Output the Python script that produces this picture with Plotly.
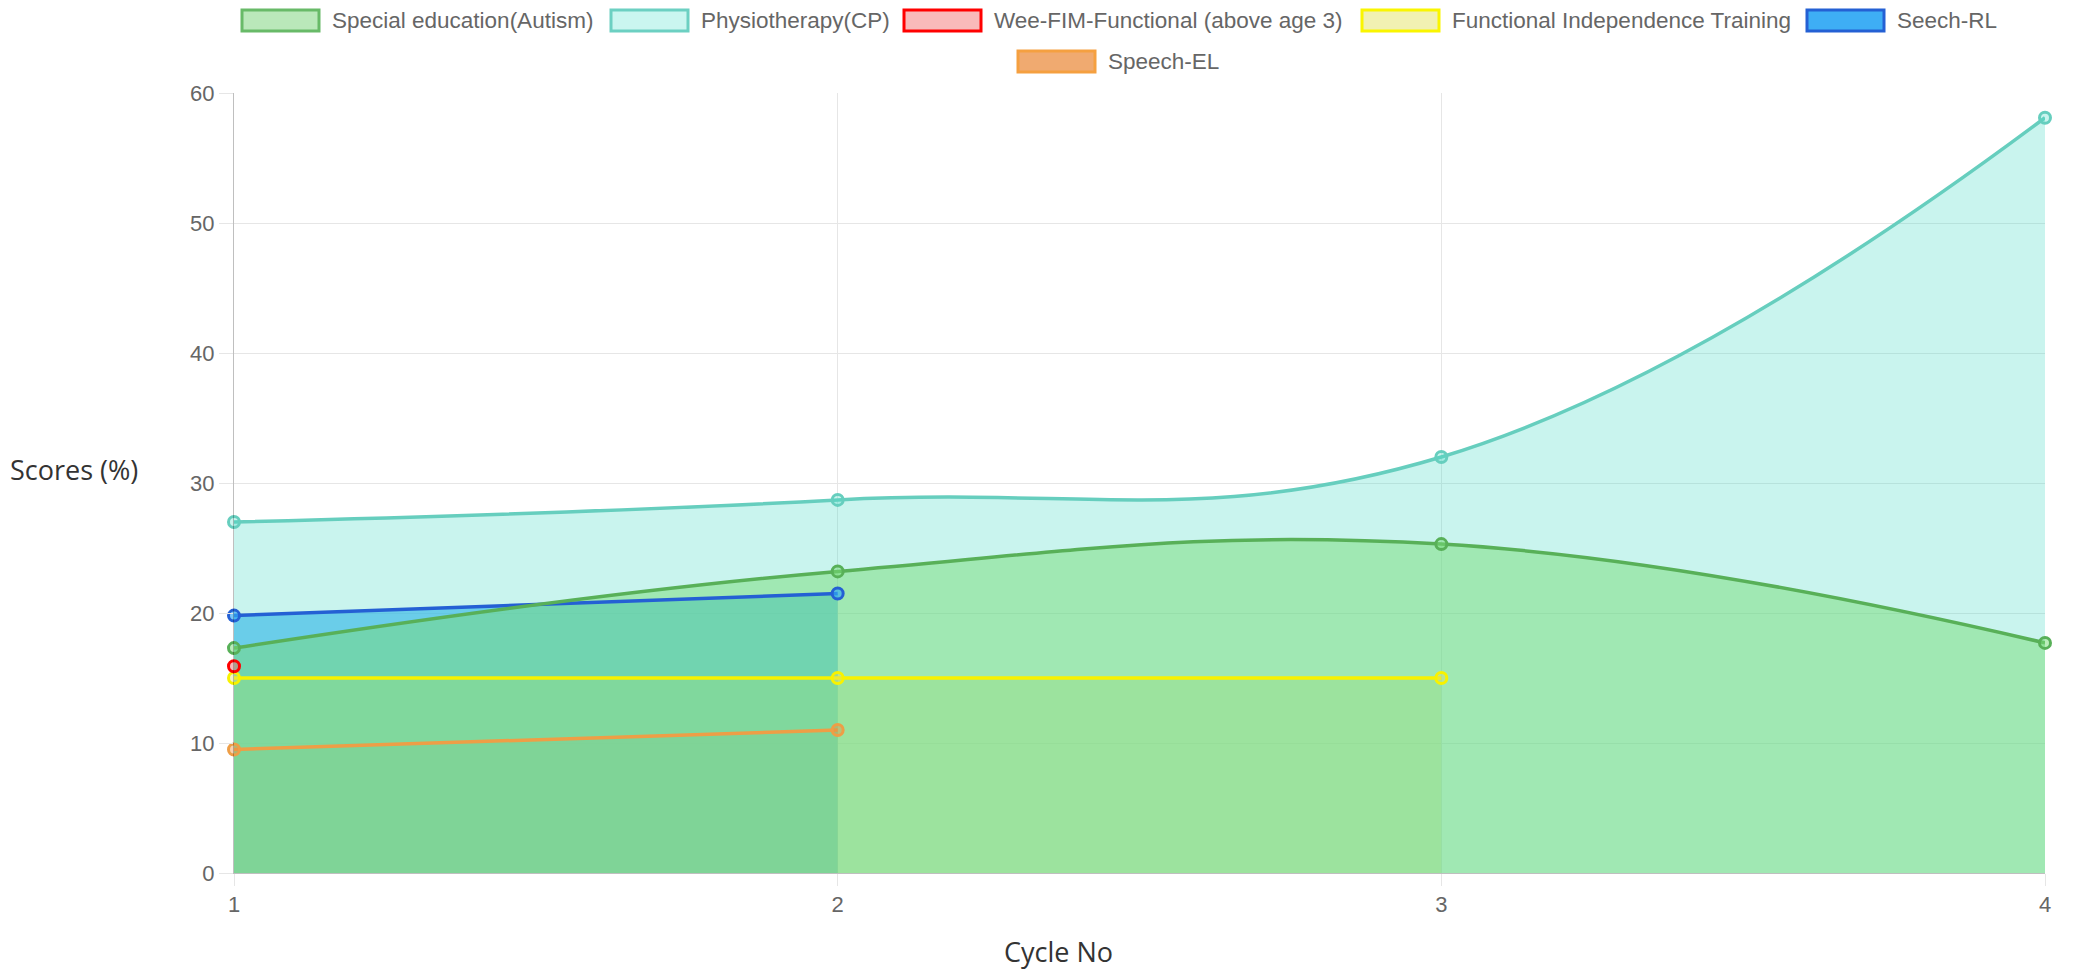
import plotly.graph_objects as go

# ---- data ----
cycles = [1, 2, 3, 4]
series_names = [
    "Special education(Autism)",
    "Physiotherapy(CP)",
    "Wee-FIM-Functional (above age 3)",
    "Functional Independence Training",
    "Seech-RL",
    "Speech-EL",
]
special_education = [17.3, 23.2, 25.3, 17.7]
physiotherapy = [27.0, 28.7, 32.0, 58.1]
wee_fim = [15.9]
functional_training = [15.0, 15.0, 15.0]
speech_rl = [19.8, 21.5]
speech_el = [9.5, 11.0]
y_ticks = [0, 10, 20, 30, 40, 50, 60]
x_ticks = [1, 2, 3, 4]

values = [special_education, physiotherapy, wee_fim, functional_training, speech_rl, speech_el]

# ---- styles ----
line_colors = [
    "rgb(88,176,88)",
    "rgb(102,206,190)",
    "rgb(255,0,0)",
    "rgb(248,242,0)",
    "rgb(36,96,212)",
    "rgb(238,158,70)",
]
fill_colors = [
    "rgba(120,219,120,0.5)",
    "rgba(75,220,200,0.3)",
    "rgba(240,100,100,0.45)",
    "rgba(225,225,110,0.4)",
    "rgba(50,170,245,0.66)",
    "rgba(235,140,60,0.4)",
]
legend_fill = [
    "rgb(186,232,186)",
    "rgb(202,246,240)",
    "rgb(249,186,186)",
    "rgb(241,241,178)",
    "rgb(62,174,245)",
    "rgb(240,170,112)",
]
legend_border = [
    "rgb(104,186,104)",
    "rgb(108,208,194)",
    "rgb(255,0,0)",
    "rgb(250,245,0)",
    "rgb(36,96,212)",
    "rgb(245,160,64)",
]

# page body has an 8px margin; positions below are measured in window pixels
OFF = 8
W, H = 2057, 964
PLOT_LEFT, PLOT_RIGHT, PLOT_TOP, PLOT_BOTTOM = 234, 2045, 92.5, 873  # window px
L = PLOT_LEFT - OFF
R = W - (PLOT_RIGHT - OFF)
T = PLOT_TOP - OFF
B = H - (PLOT_BOTTOM - OFF)
PW, PH = W - L - R, H - T - B


def px_x(px):
    return (px - OFF - L) / PW


def px_y(py):
    return 1 - (py - OFF - T) / PH


SMOOTH = 1.2

fig = go.Figure()

# Chart.js-like draw order: last dataset at bottom; all fills first, then lines
order = list(range(len(series_names)))[::-1]
for i in order:
    ys = values[i]
    xs = cycles[: len(ys)]
    if len(ys) > 1:
        fig.add_trace(go.Scatter(
            x=xs, y=ys, mode="none", fill="tozeroy", fillcolor=fill_colors[i],
            line=dict(shape="spline", smoothing=SMOOTH),
            showlegend=False, hoverinfo="skip",
        ))
for i in order:
    ys = values[i]
    xs = cycles[: len(ys)]
    fig.add_trace(go.Scatter(
        x=xs, y=ys, mode="lines+markers", name=series_names[i],
        line=dict(color=line_colors[i], width=3.5, shape="spline", smoothing=SMOOTH),
        marker=dict(size=11, color=fill_colors[i], line=dict(color=line_colors[i], width=3)),
        showlegend=False, cliponaxis=False,
    ))

# ---- legend (Chart.js style boxes) ----
legend_box_left = [242, 611, 904, 1362, 1807, 1018]
legend_row_y = [20, 20, 20, 20, 20, 61]
BOX_W, BOX_H, TEXT_GAP = 77, 21, 88
shapes = []
annotations = []
for i, name in enumerate(series_names):
    x0 = legend_box_left[i]
    yc = legend_row_y[i]
    shapes.append(dict(
        type="rect", xref="paper", yref="paper", layer="above",
        x0=px_x(x0), x1=px_x(x0 + BOX_W), y0=px_y(yc - BOX_H / 2), y1=px_y(yc + BOX_H / 2),
        fillcolor=legend_fill[i], line=dict(color=legend_border[i], width=3),
    ))
    annotations.append(dict(
        text=name, xref="paper", yref="paper", x=px_x(x0 + TEXT_GAP), y=px_y(yc),
        xanchor="left", yanchor="middle", showarrow=False,
        font=dict(family="Liberation Sans, Arial, sans-serif", size=22.5, color="#666666"),
    ))

annotations += [
    dict(text="Scores (%)", xref="paper", yref="paper",
         x=px_x(74), y=px_y(469),
         showarrow=False, xanchor="center", yanchor="middle",
         font=dict(family="Open Sans, sans-serif", size=27, color="#333333")),
    dict(text="Cycle No", xref="paper", yref="paper",
         x=px_x(1058), y=px_y(952),
         showarrow=False, xanchor="center", yanchor="middle",
         font=dict(family="Open Sans, sans-serif", size=27, color="#333333")),
]

tick_font = dict(family="Liberation Sans, Arial, sans-serif", size=22, color="#666666")
fig.update_layout(
    width=W, height=H,
    margin=dict(l=L, r=R, t=T, b=B, autoexpand=False),
    plot_bgcolor="white", paper_bgcolor="white",
    showlegend=False,
    xaxis=dict(range=[1, 4], tickvals=x_ticks, ticktext=[str(v) for v in x_ticks],
               showgrid=True, gridcolor="#e6e6e6", gridwidth=1,
               showline=True, linecolor="rgba(0,0,0,0.25)", linewidth=1,
               ticks="outside", ticklen=12, tickcolor="#e6e6e6",
               tickfont=tick_font, zeroline=False),
    yaxis=dict(range=[0, 60], tickvals=y_ticks,
               showgrid=True, gridcolor="#e6e6e6", gridwidth=1,
               showline=True, linecolor="rgba(0,0,0,0.25)", linewidth=1,
               ticks="outside", ticklen=14, tickcolor="#e6e6e6",
               tickfont=tick_font, zeroline=False),
    shapes=shapes,
    annotations=annotations,
)

fig.write_html("out.html")
